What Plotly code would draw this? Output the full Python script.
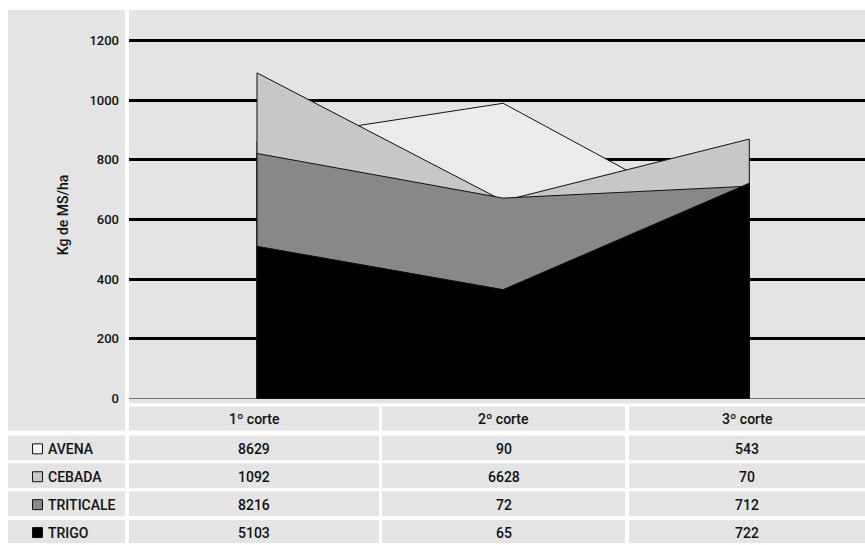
import plotly.graph_objects as go

# ---- data ----
categories = ["1º corte", "2º corte", "3º corte"]
series_names = ["AVENA", "CEBADA", "TRITICALE", "TRIGO"]
# values drawn in the area chart (Kg de MS/ha)
avena = [862.9, 990, 543]
cebada = [1092, 662.8, 870]
triticale = [821.6, 672, 712]
trigo = [510.3, 365, 722]
# values printed in the data table (as in the original)
table_avena = ["8629", "90", "543"]
table_cebada = ["1092", "6628", "70"]
table_triticale = ["8216", "72", "712"]
table_trigo = ["5103", "65", "722"]
y_ticks = [0, 200, 400, 600, 800, 1000, 1200]

series_values = [avena, cebada, triticale, trigo]
table_values = [table_avena, table_cebada, table_triticale, table_trigo]
fills = ["#ebebeb", "#c6c7c8", "#87888a", "#000000"]
legend_fills = ["#f4f4f4", "#c6c7c8", "#87888a", "#000000"]

W, H = 865, 545
BG = "#e3e4e3"
FONT = "Roboto, Liberation Sans Narrow, sans-serif"

def px(x):
    return x / W

def py(y):
    return 1 - y / H

fig = go.Figure()
n = len(categories)
idx = list(range(n))
for name, vals, col in zip(series_names, series_values, fills):
    xs = [idx[0]] + idx + [idx[-1], idx[0]]
    ys = [0] + list(vals) + [0, 0]
    fig.add_trace(go.Scatter(
        x=xs, y=ys, mode="lines", fill="toself", fillcolor=col,
        line=dict(color="#111111", width=1), name=name, showlegend=False,
        hoverinfo="skip"))

shapes = []
annotations = []
# left panel (y-axis area, incl. table corner)
shapes.append(dict(type="rect", xref="paper", yref="paper", x0=px(8), x1=px(125),
                   y0=py(432), y1=py(10), fillcolor=BG, line=dict(width=0), layer="below"))

col_x = [(129, 379), (382, 625), (629, 865)]
header_y = (408, 432)
row_y = [(437, 462), (465, 490), (493, 518), (522, 545)]

def cell(x0, x1, y0, y1):
    shapes.append(dict(type="rect", xref="paper", yref="paper", x0=px(x0), x1=px(x1),
                       y0=py(y1), y1=py(y0), fillcolor=BG, line=dict(width=0), layer="below"))

def text(t, x, y, anchor="center"):
    annotations.append(dict(text=t, x=px(x), y=py(y), xref="paper", yref="paper",
                            xanchor=anchor, yanchor="middle", showarrow=False,
                            font=dict(family=FONT, size=14, color="#111111", weight=500)))

for (x0, x1), cat in zip(col_x, categories):
    cell(x0, x1, *header_y)
    text(cat, (x0 + x1) / 2, (header_y[0] + header_y[1]) / 2 + 1)

for (y0, y1), name, vals, lf in zip(row_y, series_names, table_values, legend_fills):
    cell(8, 125, y0, y1)
    ym = (y0 + y1) / 2 + 1
    shapes.append(dict(type="rect", xref="paper", yref="paper", x0=px(32.5), x1=px(42.5),
                       y0=py(ym + 5), y1=py(ym - 5), fillcolor=lf,
                       line=dict(color="#111111", width=1)))
    text(name, 46, ym, anchor="left")
    for (x0, x1), v in zip(col_x, vals):
        cell(x0, x1, y0, y1)
        text(v, (x0 + x1) / 2, ym)

# y-axis title
annotations.append(dict(text="Kg de MS/ha", x=px(63), y=py(216), xref="paper", yref="paper",
                        textangle=-90, showarrow=False, xanchor="center", yanchor="middle",
                        font=dict(family=FONT, size=14, color="#111111", weight=500)))

fig.update_layout(
    width=W, height=H,
    margin=dict(l=0, r=0, t=0, b=0),
    paper_bgcolor="white",
    plot_bgcolor=BG,
    showlegend=False,
    shapes=shapes,
    annotations=annotations,
    xaxis=dict(domain=[px(129), 1], range=[-0.52, 2.47], showgrid=False,
               zeroline=False, showticklabels=False, ticks="", showline=False),
    yaxis=dict(domain=[py(405), py(10)], range=[-17, 1303], tickvals=y_ticks,
               showgrid=True, gridcolor="#000000", gridwidth=3,
               zeroline=True, zerolinecolor="#777777", zerolinewidth=1,
               ticks="", ticklabelstandoff=9, showline=False,
               tickfont=dict(family=FONT, size=13, color="#111111", weight=500)),
)

fig.write_html("out.html")
